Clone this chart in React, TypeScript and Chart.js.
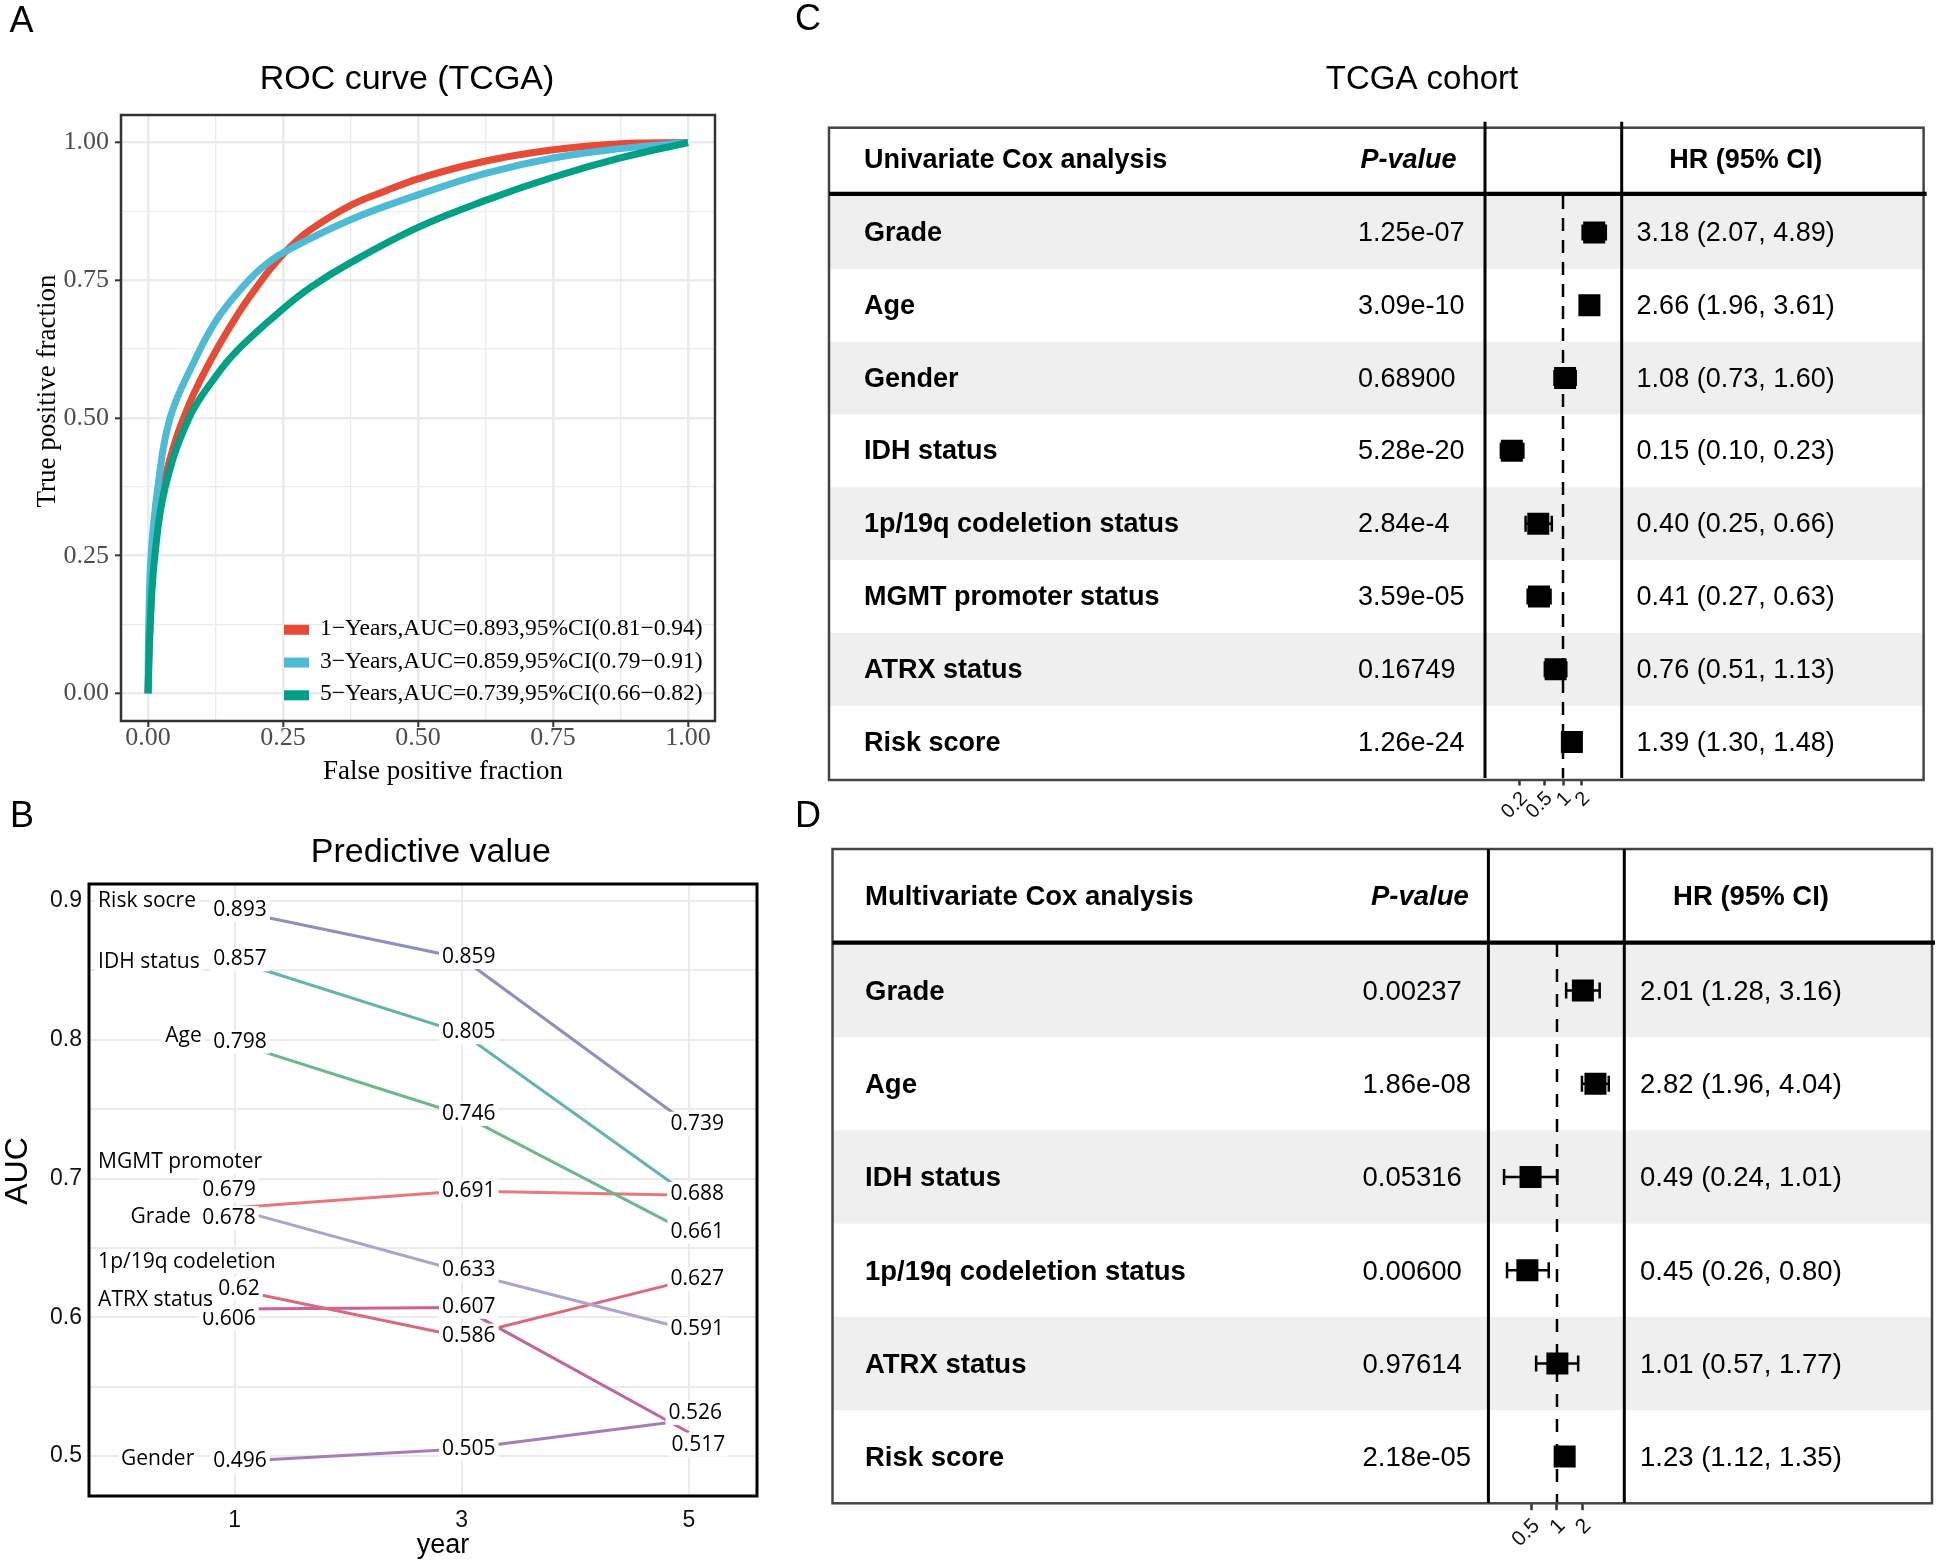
import React, { useEffect, useRef } from 'react';
import { Chart, registerables } from 'chart.js';

Chart.register(...registerables);

const SANS = '"Liberation Sans", Arial, Helvetica, sans-serif';
const SERIF = '"Liberation Serif", "Times New Roman", Times, serif';
const OPEN = '"Open Sans", "Liberation Sans", sans-serif';

// ================= Panel A : ROC curves =================
const ROC_1Y_FPR = [0, 0.004, 0.011, 0.030, 0.048, 0.0655, 0.090, 0.131, 0.170, 0.203, 0.231, 0.266, 0.301, 0.375, 0.442, 0.5, 0.583, 0.6535, 0.75, 0.875, 1];
const ROC_1Y_TPR = [0, 0.125, 0.25, 0.382, 0.450, 0.499, 0.555, 0.631, 0.694, 0.740, 0.776, 0.813, 0.842, 0.886, 0.913, 0.934, 0.957, 0.972, 0.987, 0.998, 1];
const ROC_3Y_FPR = [0, 0.0014, 0.0056, 0.0183, 0.0408, 0.0866, 0.125, 0.171, 0.21, 0.25, 0.375, 0.5, 0.625, 0.75, 0.875, 1];
const ROC_3Y_TPR = [0, 0.125, 0.25, 0.375, 0.50, 0.605, 0.675, 0.733, 0.772, 0.80, 0.86, 0.905, 0.944, 0.972, 0.989, 1];
const ROC_5Y_FPR = [0, 0.004, 0.0127, 0.032, 0.076, 0.125, 0.1676, 0.25, 0.301, 0.375, 0.5, 0.625, 0.75, 0.875, 1];
const ROC_5Y_TPR = [0, 0.125, 0.25, 0.375, 0.5, 0.575, 0.625, 0.698, 0.737, 0.782, 0.846, 0.895, 0.937, 0.972, 1];
const ROC_LEGEND = [
  '1\u2212Years,AUC=0.893,95%CI(0.81\u22120.94)',
  '3\u2212Years,AUC=0.859,95%CI(0.79\u22120.91)',
  '5\u2212Years,AUC=0.739,95%CI(0.66\u22120.82)',
];
const ROC_COLORS = ['#E64B35', '#4DBBD5', '#00A087'];
const ROC_TICKS = [0, 0.25, 0.5, 0.75, 1];

// ================= Panel B : predictive value =================
const YEARS = [1, 3, 5];
const B_NAMES = ['Risk socre', 'IDH status', 'Age', 'MGMT promoter', 'Grade', '1p/19q codeletion', 'ATRX status', 'Gender'];
const AUC_RISK = [0.893, 0.859, 0.739];
const AUC_IDH = [0.857, 0.805, 0.688];
const AUC_AGE = [0.798, 0.746, 0.661];
const AUC_MGMT = [0.679, 0.691, 0.688];
const AUC_GRADE = [0.678, 0.633, 0.591];
const AUC_1P19Q = [0.62, 0.586, 0.627];
const AUC_ATRX = [0.606, 0.607, 0.517];
const AUC_GENDER = [0.496, 0.505, 0.526];
const B_SERIES = [AUC_RISK, AUC_IDH, AUC_AGE, AUC_MGMT, AUC_GRADE, AUC_1P19Q, AUC_ATRX, AUC_GENDER];
const B_COLORS = ['#8E8EC1', '#62B4AE', '#6BB98A', '#E9787B', '#A9A5CF', '#D96A7D', '#C5639B', '#A67DB9'];
const B_TICKS = [0.5, 0.6, 0.7, 0.8, 0.9];

// label placement (repel offsets, data units)
const LABEL_DX = [
  [0.049, 0.062, 0.073],
  [0.049, 0.062, 0.073],
  [0.049, 0.062, 0.073],
  [-0.049, 0.062, 0.073],
  [-0.049, 0.062, 0.073],
  [0.040, 0.062, 0.073],
  [-0.049, 0.062, 0.083],
  [0.049, 0.062, 0.056],
];
const LABEL_DY = [
  [0.0004, 0.0007, 0.0005],
  [0.0010, 0.0005, 0.0007],
  [0.0007, 0.0006, 0.0006],
  [0.0126, 0.0003, 0.0007],
  [-0.0065, 0.0009, 0.0006],
  [0.0007, 0.0008, 0.0006],
  [-0.0071, 0.0006, -0.0088],
  [0.0003, 0.0004, 0.0051],
];
const NAME_POS = [
  { x: -0.2007, y: 0.9, align: 'left' },
  { x: -0.2007, y: 0.8563, align: 'left' },
  { x: 0.7113, y: 0.8025, align: 'right' },
  { x: -0.2007, y: 0.7121, align: 'left' },
  { x: 0.6144, y: 0.6722, align: 'right' },
  { x: -0.2007, y: 0.64, align: 'left' },
  { x: -0.2007, y: 0.6124, align: 'left' },
  { x: 0.6452, y: 0.4978, align: 'right' },
];

// ================= Panel C : univariate Cox =================
const UNI_VARS = ['Grade', 'Age', 'Gender', 'IDH status', '1p/19q codeletion status', 'MGMT promoter status', 'ATRX status', 'Risk score'];
const UNI_PVALUES = ['1.25e-07', '3.09e-10', '0.68900', '5.28e-20', '2.84e-4', '3.59e-05', '0.16749', '1.26e-24'];
const UNI_HR = [3.18, 2.66, 1.08, 0.15, 0.40, 0.41, 0.76, 1.39];
const UNI_LOW = [2.07, 1.96, 0.73, 0.10, 0.25, 0.27, 0.51, 1.30];
const UNI_HIGH = [4.89, 3.61, 1.60, 0.23, 0.66, 0.63, 1.13, 1.48];
const UNI_TICKS = [0.2, 0.5, 1, 2];

// ================= Panel D : multivariate Cox =================
const MULTI_VARS = ['Grade', 'Age', 'IDH status', '1p/19q codeletion status', 'ATRX status', 'Risk score'];
const MULTI_PVALUES = ['0.00237', '1.86e-08', '0.05316', '0.00600', '0.97614', '2.18e-05'];
const MULTI_HR = [2.01, 2.82, 0.49, 0.45, 1.01, 1.23];
const MULTI_LOW = [1.28, 1.96, 0.24, 0.26, 0.57, 1.12];
const MULTI_HIGH = [3.16, 4.04, 1.01, 0.80, 1.77, 1.35];
const MULTI_TICKS = [0.5, 1, 2];

// ---------------------------------------------------------
const withMid = (arr: number[]) => arr.flatMap((v, i) => (i < arr.length - 1 ? [v, (v + arr[i + 1]) / 2] : [v]));
const inList = (list: number[], v: number) => list.some((t) => Math.abs(t - v) < 1e-9);

function rocConfig(): any {
  const fprs = [ROC_1Y_FPR, ROC_3Y_FPR, ROC_5Y_FPR];
  const tprs = [ROC_1Y_TPR, ROC_3Y_TPR, ROC_5Y_TPR];
  const all = withMid(ROC_TICKS);
  const axis = (fit: (s: any) => void, pad: number) => ({
    type: 'linear',
    min: -0.05,
    max: 1.05,
    afterBuildTicks: (s: any) => { s.ticks = all.map((v) => ({ value: v })); },
    afterFit: fit,
    border: { display: false },
    grid: {
      color: '#EBEBEB',
      lineWidth: (c: any) => (c.tick && inList(ROC_TICKS, c.tick.value) ? 2.6 : 1.3),
      drawTicks: true,
      tickLength: 6,
      tickWidth: 2,
      tickColor: (c: any) => (c.tick && inList(ROC_TICKS, c.tick.value) ? '#333333' : 'rgba(0,0,0,0)'),
    },
    ticks: {
      autoSkip: false,
      maxRotation: 0,
      padding: pad,
      color: '#4D4D4D',
      font: { family: SERIF, size: 26, lineHeight: 1 },
      callback: (v: number) => (inList(ROC_TICKS, v) ? v.toFixed(2) : ''),
    },
  });
  const decor = {
    id: 'rocDecor',
    afterDraw(chart: any) {
      const { ctx, chartArea: ca } = chart;
      ctx.save();
      ctx.strokeStyle = '#333333';
      ctx.lineWidth = 2.5;
      ctx.strokeRect(ca.left, ca.top, ca.right - ca.left, ca.bottom - ca.top);
      ctx.font = `23.5px ${SERIF}`;
      ctx.textBaseline = 'middle';
      ctx.textAlign = 'left';
      ROC_LEGEND.forEach((t, i) => {
        const cy = 629.8 + i * 32.75;
        ctx.fillStyle = ROC_COLORS[i];
        ctx.fillRect(284, cy - 5, 25, 10);
        ctx.fillStyle = '#000';
        ctx.fillText(t, 320, cy - 1);
      });
      ctx.textBaseline = 'alphabetic';
      ctx.fillStyle = '#000';
      ctx.textAlign = 'center';
      ctx.font = `34px ${SANS}`;
      ctx.fillText('ROC curve (TCGA)', 407, 89);
      ctx.font = `27px ${SERIF}`;
      ctx.fillText('False positive fraction', 443, 779);
      ctx.save();
      ctx.translate(55, 391);
      ctx.rotate(-Math.PI / 2);
      ctx.fillText('True positive fraction', 0, 0);
      ctx.restore();
      ctx.textAlign = 'left';
      ctx.font = `36px ${SANS}`;
      ctx.fillText('A', 9.6, 31.7);
      ctx.restore();
    },
  };
  return {
    type: 'scatter',
    data: {
      datasets: fprs.map((f, i) => ({
        label: ROC_LEGEND[i],
        data: f.map((x, j) => ({ x, y: tprs[i][j] })),
        showLine: true,
        borderColor: ROC_COLORS[i],
        borderWidth: 7,
        pointRadius: 0,
        tension: 0.4,
        borderCapStyle: 'butt',
        borderJoinStyle: 'round',
        order: 3 - i,
      })),
    },
    options: {
      responsive: false,
      animation: false,
      events: [],
      layout: { padding: { top: 115, left: 61, right: 85, bottom: 24 } },
      plugins: { legend: { display: false }, tooltip: { enabled: false } },
      scales: {
        x: axis((s: any) => { s.height = 45; }, -2),
        y: axis((s: any) => { s.width = 60; }, 6),
      },
    },
    plugins: [decor],
  };
}

function predConfig(): any {
  const all = withMid(B_TICKS);
  const decor = {
    id: 'predDecor',
    afterDatasetsDraw(chart: any) {
      const { ctx } = chart;
      const xs = chart.scales.x;
      const ys = chart.scales.y;
      ctx.save();
      ctx.font = `21px ${OPEN}`;
      ctx.textBaseline = 'middle';
      const box = (x: number, y: number, text: string, align: string) => {
        const w = ctx.measureText(text).width;
        const left = align === 'left' ? x : align === 'right' ? x - w : x - w / 2;
        ctx.fillStyle = '#fff';
        ctx.fillRect(left - 3, y - 12, w + 6, 24);
        ctx.fillStyle = '#000';
        ctx.textAlign = 'left';
        ctx.fillText(text, left, y);
      };
      B_SERIES.forEach((vals, i) => {
        vals.forEach((v, j) => {
          box(xs.getPixelForValue(YEARS[j] + LABEL_DX[i][j]), ys.getPixelForValue(v + LABEL_DY[i][j]), String(v), 'center');
        });
      });
      B_SERIES.forEach((_, i) => {
        const n = NAME_POS[i];
        box(xs.getPixelForValue(n.x), ys.getPixelForValue(n.y), B_NAMES[i], n.align);
      });
      ctx.restore();
    },
    afterDraw(chart: any) {
      const { ctx, chartArea: ca } = chart;
      ctx.save();
      ctx.strokeStyle = '#000';
      ctx.lineWidth = 3;
      ctx.strokeRect(ca.left, ca.top, ca.right - ca.left, ca.bottom - ca.top);
      ctx.fillStyle = '#000';
      ctx.textBaseline = 'alphabetic';
      ctx.textAlign = 'center';
      ctx.font = `34px ${SANS}`;
      ctx.fillText('Predictive value', 430.8, 71.7);
      ctx.font = `27px ${SANS}`;
      ctx.fillText('year', 443, 763);
      ctx.save();
      ctx.translate(27, 381);
      ctx.rotate(-Math.PI / 2);
      ctx.font = `32px ${SANS}`;
      ctx.fillText('AUC', 0, 0);
      ctx.restore();
      ctx.textAlign = 'left';
      ctx.font = `36px ${SANS}`;
      ctx.fillText('B', 10, 37);
      ctx.restore();
    },
  };
  return {
    type: 'scatter',
    data: {
      datasets: B_SERIES.map((vals, i) => ({
        label: B_NAMES[i],
        data: vals.map((v, j) => ({ x: YEARS[j], y: v })),
        showLine: true,
        borderColor: B_COLORS[i],
        borderWidth: 3,
        pointRadius: 0,
      })),
    },
    options: {
      responsive: false,
      animation: false,
      events: [],
      layout: { padding: { top: 94, left: 29, right: 43, bottom: 27 } },
      plugins: { legend: { display: false }, tooltip: { enabled: false } },
      scales: {
        x: {
          type: 'linear',
          min: -0.281,
          max: 5.599,
          afterBuildTicks: (s: any) => { s.ticks = YEARS.map((v) => ({ value: v })); },
          afterFit: (s: any) => { s.height = 40; },
          border: { display: false },
          grid: { color: '#EBEBEB', lineWidth: 2, drawTicks: false },
          ticks: { autoSkip: false, maxRotation: 0, padding: 13.5, color: '#111', font: { family: SANS, size: 23, lineHeight: 1 }, callback: (v: number) => String(v) },
        },
        y: {
          type: 'linear',
          min: 0.4712,
          max: 0.9123,
          afterBuildTicks: (s: any) => { s.ticks = all.map((v) => ({ value: v })); },
          afterFit: (s: any) => { s.width = 60; },
          border: { display: false },
          grid: { color: '#EBEBEB', lineWidth: 2, drawTicks: false },
          ticks: { autoSkip: false, padding: 7, color: '#111', font: { family: SANS, size: 23, lineHeight: 1 }, callback: (v: number) => (inList(B_TICKS, v) ? String(Math.round(v * 10) / 10) : '') },
        },
      },
    },
    plugins: [decor],
  };
}

function forestConfig(G: any, vars: string[], pvals: string[], hr: number[], lo: number[], hi: number[], ticks: number[]): any {
  const n = vars.length;
  const f2 = (v: number) => v.toFixed(2);
  const plugin = {
    id: 'forestTable',
    beforeDraw(chart: any) {
      const { ctx } = chart;
      const ys = chart.scales.y;
      ctx.save();
      for (let i = 1; i <= n; i += 2) {
        const top = ys.getPixelForValue(i - 0.5);
        const bot = ys.getPixelForValue(i + 0.5);
        ctx.fillStyle = '#EFEFEF';
        ctx.fillRect(G.tableLeft, top, G.tableRight - G.tableLeft, bot - top);
      }
      ctx.fillStyle = '#000';
      ctx.textBaseline = 'alphabetic';
      ctx.textAlign = 'left';
      ctx.font = `bold ${G.fs}px ${SANS}`;
      ctx.fillText(G.header, G.nameX, G.headerBase);
      ctx.font = `italic bold ${G.fs}px ${SANS}`;
      ctx.textAlign = 'right';
      ctx.fillText('P-value', G.pHeadRight, G.headerBase);
      ctx.font = `bold ${G.fs}px ${SANS}`;
      ctx.textAlign = 'center';
      ctx.fillText('HR (95% CI)', G.hrHeadX, G.headerBase);
      for (let i = 0; i < n; i++) {
        const by = ys.getPixelForValue(i + 1) + G.baseOff;
        ctx.textAlign = 'left';
        ctx.font = `bold ${G.fs}px ${SANS}`;
        ctx.fillText(vars[i], G.nameX, by);
        ctx.font = `${G.fs}px ${SANS}`;
        ctx.fillText(pvals[i], G.pX, by);
        ctx.fillText(`${f2(hr[i])} (${f2(lo[i])}, ${f2(hi[i])})`, G.hrX, by);
      }
      if (G.title) {
        ctx.textAlign = 'center';
        ctx.font = `33px ${SANS}`;
        ctx.fillText(G.title, G.titleX, G.titleBase);
      }
      ctx.textAlign = 'left';
      ctx.font = `36px ${SANS}`;
      ctx.fillText(G.letter, 5, G.letterBase);
      ctx.restore();
    },
    beforeDatasetsDraw(chart: any) {
      const { ctx } = chart;
      const xs = chart.scales.x;
      const ys = chart.scales.y;
      ctx.save();
      ctx.strokeStyle = '#000';
      ctx.lineWidth = 2.5;
      for (let i = 0; i < n; i++) {
        const y = ys.getPixelForValue(i + 1);
        const x1 = xs.getPixelForValue(lo[i]);
        const x2 = xs.getPixelForValue(hi[i]);
        ctx.beginPath();
        ctx.moveTo(x1, y);
        ctx.lineTo(x2, y);
        ctx.moveTo(x1, y - G.cap / 2);
        ctx.lineTo(x1, y + G.cap / 2);
        ctx.moveTo(x2, y - G.cap / 2);
        ctx.lineTo(x2, y + G.cap / 2);
        ctx.stroke();
      }
      ctx.restore();
    },
    afterDraw(chart: any) {
      const { ctx, chartArea: ca } = chart;
      ctx.save();
      ctx.strokeStyle = '#444';
      ctx.lineWidth = 2.5;
      ctx.strokeRect(G.tableLeft, G.tableTop, G.tableRight - G.tableLeft, G.tableBottom - G.tableTop);
      ctx.strokeStyle = '#000';
      ctx.lineWidth = 4.3;
      ctx.beginPath();
      ctx.moveTo(G.tableLeft, G.headerLineY);
      ctx.lineTo(G.tableRight + 3, G.headerLineY);
      ctx.stroke();
      ctx.lineWidth = 3;
      ctx.beginPath();
      [ca.left, ca.right].forEach((x: number) => {
        ctx.moveTo(x, G.vTop);
        ctx.lineTo(x, G.vBottom);
      });
      ctx.stroke();
      ctx.restore();
    },
  };
  return {
    type: 'scatter',
    data: {
      datasets: [
        {
          data: hr.map((v, i) => ({ x: v, y: i + 1 })),
          pointStyle: 'rect',
          pointRadius: 15.56,
          pointBackgroundColor: '#000',
          pointBorderColor: '#000',
          pointBorderWidth: 0,
          order: 0,
        },
        {
          data: [{ x: 1, y: 0.5 }, { x: 1, y: n + 0.5 }],
          showLine: true,
          borderColor: '#000',
          borderWidth: 2.5,
          borderDash: G.dash,
          pointRadius: 0,
          order: 1,
        },
      ],
    },
    options: {
      responsive: false,
      animation: false,
      events: [],
      layout: { padding: G.padding },
      plugins: { legend: { display: false }, tooltip: { enabled: false } },
      scales: {
        x: {
          type: 'logarithmic',
          min: G.xMin,
          max: G.xMax,
          afterBuildTicks: (s: any) => { s.ticks = ticks.map((v) => ({ value: v })); },
          afterFit: (s: any) => { s.height = 45; },
          border: { display: false },
          grid: { display: true, drawOnChartArea: false, drawTicks: true, tickLength: 7, tickWidth: 2.5, tickColor: '#333' },
          ticks: {
            autoSkip: false,
            minRotation: 45,
            maxRotation: 45,
            padding: G.tickPad,
            labelOffset: 5,
            color: '#111',
            font: { family: SANS, size: G.tickFs, lineHeight: 1 },
            callback: (v: number) => String(v),
          },
        },
        y: { type: 'linear', min: 0.5, max: n + 0.5, reverse: true, display: false },
      },
    },
    plugins: [plugin],
  };
}

const C_GEOM = {
  header: 'Univariate Cox analysis', title: 'TCGA cohort', titleX: 632, titleBase: 89.3, letter: 'C', letterBase: 30,
  tableLeft: 39, tableRight: 1133.6, tableTop: 127.7, tableBottom: 780, headerLineY: 193.8, vTop: 121.7, vBottom: 778,
  headerBase: 168.3, nameX: 74, pX: 568, pHeadRight: 666.5, hrX: 846.6, hrHeadX: 955.8, baseOff: 8.5, fs: 27,
  padding: { left: 695, right: 314.3, top: 196, bottom: 6.5 }, xMin: 0.0555, xMax: 8.81, dash: [13, 9], cap: 16, tickFs: 20, tickPad: 3,
};
const D_GEOM = {
  header: 'Multivariate Cox analysis', title: '', titleX: 0, titleBase: 0, letter: 'D', letterBase: 36.7,
  tableLeft: 42.5, tableRight: 1142, tableTop: 59, tableBottom: 713.3, headerLineY: 152.7, vTop: 59, vBottom: 713,
  headerBase: 115, nameX: 75, pX: 572.5, pHeadRight: 678.8, hrX: 850, hrHeadX: 961, baseOff: 9.4, fs: 27.5,
  padding: { left: 698.4, right: 311.7, top: 154, bottom: 14.8 }, xMin: 0.1573, xMax: 6.14, dash: [13, 12], cap: 16, tickFs: 21, tickPad: 5,
};

function ChartCanvas({ x, y, w, h, make }: any) {
  const ref = useRef<HTMLCanvasElement | null>(null);
  useEffect(() => {
    let alive = true;
    const chart = new Chart(ref.current as HTMLCanvasElement, make());
    if ((document as any).fonts && (document as any).fonts.ready) {
      (document as any).fonts.ready.then(() => { if (alive) chart.update('none'); });
    }
    return () => { alive = false; chart.destroy(); };
  }, []);
  return <canvas ref={ref} width={w} height={h} style={{ position: 'absolute', left: x, top: y, width: w, height: h }} />;
}

export default function App() {
  useEffect(() => {
    document.body.style.margin = '0';
    document.body.style.background = '#fff';
  }, []);
  return (
    <div style={{ position: 'absolute', left: 0, top: 0, width: 1936, height: 1563, background: '#fff', overflow: 'hidden' }}>
      <ChartCanvas x={0} y={0} w={800} h={790} make={rocConfig} />
      <ChartCanvas x={0} y={790} w={800} h={773} make={predConfig} />
      <ChartCanvas x={790} y={0} w={1146} h={830} make={() => forestConfig(C_GEOM, UNI_VARS, UNI_PVALUES, UNI_HR, UNI_LOW, UNI_HIGH, UNI_TICKS)} />
      <ChartCanvas x={790} y={790} w={1146} h={773} make={() => forestConfig(D_GEOM, MULTI_VARS, MULTI_PVALUES, MULTI_HR, MULTI_LOW, MULTI_HIGH, MULTI_TICKS)} />
    </div>
  );
}
